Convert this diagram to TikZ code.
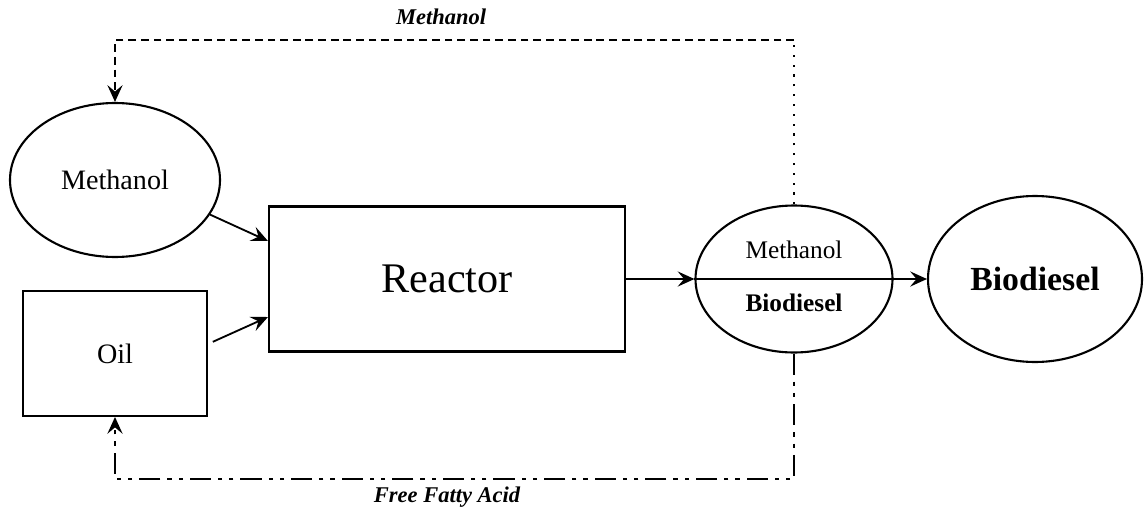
\documentclass[tikz,border=0pt]{standalone}
\usepackage{fontspec}
\setmainfont{Liberation Serif}
\usetikzlibrary{
  arrows.meta,
  shapes.geometric,
  positioning
}

\begin{document}
\begin{tikzpicture}[>={Stealth[length=4.2mm,width=3.8mm,inset=1.6mm]},
  every node/.style={inner sep=0pt},
  unit/.style={draw,line width=1.5pt,rectangle},
  vessel/.style={draw,line width=1.5pt,ellipse},
  flow/.style={line width=1.3pt,->},
  loopfont/.style={font=\fontsize{16}{18}\selectfont\bfseries\itshape}]
  \useasboundingbox (0,0) rectangle (28.7,12.775);
  \node[vessel,minimum width=5.25cm,minimum height=3.85cm] (meth) at (2.875,8.275) {\fontsize{20}{24}\selectfont Methanol};
  \node[unit,minimum width=4.6cm,minimum height=3.125cm]  (oil)  at (2.875,3.94)  {\fontsize{20}{24}\selectfont Oil};
  \node[unit,minimum width=8.9cm,minimum height=3.625cm]  (reac) at (11.175,5.8)  {\fontsize{30}{34}\selectfont Reactor};
  \node[vessel,minimum width=4.925cm,minimum height=3.675cm] (mix) at (19.85,5.8) {};
  \node (mixtop) at ([yshift=0.72cm]mix.center) {\fontsize{18}{20}\selectfont Methanol};
  \node (mixbot) at ([yshift=-0.6cm]mix.center) {\fontsize{18}{20}\selectfont\bfseries Biodiesel};
  \node[vessel,minimum width=5.35cm,minimum height=4.15cm] (bio) at (25.875,5.8) {\fontsize{24}{28}\selectfont\bfseries Biodiesel};
  \coordinate (top) at (0,11.775);
  \coordinate (bot) at (0,0.8);
  \draw[flow] (meth.-20) -- ([yshift=0.95cm]reac.west);
  \draw[flow] ([shift={(0.12cm,0.29cm)}]oil.east) -- ([yshift=-0.95cm]reac.west);
  \draw[flow] (reac.east) -- (mix.west);
  \draw[flow] (mix.west) -- (bio.west);
  % recycle loops
  \draw[line width=1.3pt,dash pattern=on 1.5pt off 5.5pt] (mix.north) -- (mix.north |- top);
  \draw[flow,dash pattern=on 5.5pt off 3.5pt] (mix.north |- top) -- (meth.north |- top) -- (meth.north);
  \draw[flow,dash pattern=on 15pt off 5pt on 3pt off 5pt on 3pt off 5pt] (mix.south) -- (mix.south |- bot) -- (oil.south |- bot) -- (oil.south);
  \node[loopfont] (lblmeth) at (11.03,12.35) {Methanol};
  \node[loopfont] (lblffa)  at (11.175,0.35) {Free Fatty Acid};
\end{tikzpicture}
\end{document}
